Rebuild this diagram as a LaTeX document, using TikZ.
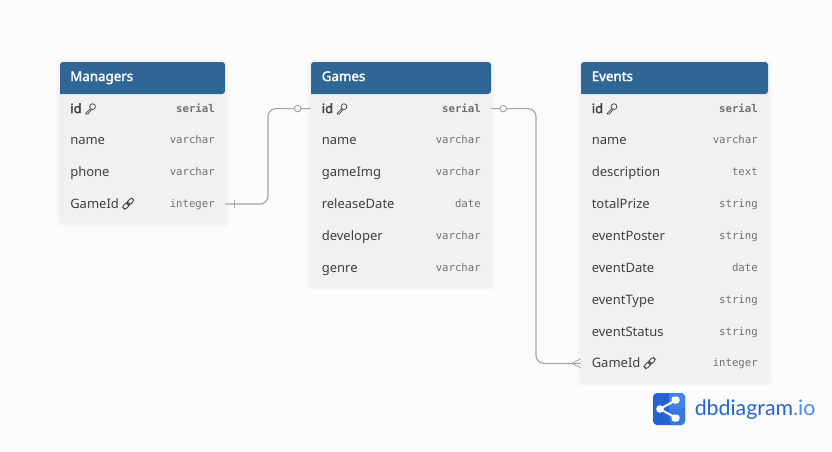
\documentclass[tikz,border=0pt]{standalone}
\usepackage{fontspec}
\setmainfont{Noto Sans}[AutoFakeBold=2]
\setmonofont{DejaVu Sans Mono}
\newfontfamily\logofont{Lato}
\usetikzlibrary{calc}
\definecolor{pagebg}{HTML}{FCFCFC}
\definecolor{headblue}{HTML}{2F6696}
\definecolor{rowgrey}{HTML}{F1F1F1}
\definecolor{fieldtxt}{HTML}{404040}
\definecolor{typetxt}{HTML}{707070}
\definecolor{linkgrey}{HTML}{A4A4AA}
\definecolor{logodark}{HTML}{2563D3}
\definecolor{logolight}{HTML}{4A8AF0}
\def\px{0.75pt}
\tikzset{
 headtxt/.style={anchor=base west,inner sep=0pt,text=white,font=\fontsize{10pt}{11pt}\selectfont\bfseries},
 colname/.style={anchor=base west,inner sep=0pt,text=fieldtxt,font=\fontsize{9.75pt}{11pt}\selectfont},
 coltype/.style={anchor=base east,inner sep=0pt,text=typetxt,font=\ttfamily\fontsize{8pt}{10pt}\selectfont},
 rowbox/.style={inner sep=0pt,minimum height={31.9*\px}},
 reflink/.style={draw=linkgrey,line width=0.9pt},
 keyicon/.pic={
  \draw[fieldtxt,line width=0.55pt] (2.1,-2.1) circle (2.9);
  \draw[fieldtxt,line width=0.55pt] (0.1,-0.1) -- (-4.6,4.6) -- (-4.6,5.2) -- (-2.4,5.2) -- (1.1,0.8);
 },
 chainicon/.pic={
  \draw[fieldtxt,line width=0.65pt,rotate=45,rounded corners=1.6] (-6.6,-2) rectangle (0.9,2);
  \draw[fieldtxt,line width=0.65pt,rotate=45,rounded corners=1.6] (-0.9,-2) rectangle (6.6,2);
 },
}
\begin{document}
\begin{tikzpicture}[x=0.75pt,y=-0.75pt]
\useasboundingbox[fill=pagebg] (0,0) rectangle (832,451);
% table panels with soft shadow
\foreach \xa/\xb/\yb in {60/225/222,311/491/285,581/768/381}{
 \foreach \s in {5,4,3,2,1}{
  \fill[black,opacity=0.008,rounded corners=3] (\xa-\s,62-\s+1) rectangle (\xb+\s,\yb+\s+1);
 }
 \fill[rowgrey,rounded corners=2.25pt] (\xa,62) rectangle (\xb,\yb);
 \fill[headblue,rounded corners=2.25pt] (\xa,94) -- (\xa,62) -- (\xb,62) -- (\xb,94) [sharp corners] -- cycle;
}
% Managers
\node[headtxt] (mhead) at (70,81) {Managers};
\foreach \i/\f/\t [evaluate=\i as \y using 108.6+(\i-1)*31.8] in {1/id/serial,2/name/varchar,3/phone/varchar,4/GameId/integer}{
 \node[rowbox,minimum width={165*\px}] (m\i) at (142.5,\y) {};
 \node[colname] (m\i n) at (70,\y+4.5) {\f};
 \node[coltype] (m\i t) at (215,\y+3.5) {\t};
}
% Games
\node[headtxt] (ghead) at (321.5,81) {Games};
\foreach \i/\f/\t [evaluate=\i as \y using 108.6+(\i-1)*31.8] in {1/id/serial,2/name/varchar,3/gameImg/varchar,4/releaseDate/date,5/developer/varchar,6/genre/varchar}{
 \node[rowbox,minimum width={180*\px}] (g\i) at (401,\y) {};
 \node[colname] (g\i n) at (321.5,\y+4.5) {\f};
 \node[coltype] (g\i t) at (481,\y+3.5) {\t};
}
% Events
\node[headtxt] (ehead) at (591.5,81) {Events};
\foreach \i/\f/\t [evaluate=\i as \y using 108.6+(\i-1)*31.85] in {1/id/serial,2/name/varchar,3/description/text,4/totalPrize/string,5/eventPoster/string,6/eventDate/date,7/eventType/string,8/eventStatus/string,9/GameId/integer}{
 \node[rowbox,minimum width={187*\px}] (e\i) at (674.5,\y) {};
 \node[colname] (e\i n) at (591.5,\y+4.5) {\f};
 \node[coltype] (e\i t) at (758,\y+3.5) {\t};
}
% primary keys are bold
\foreach \tb/\xa/\xb in {m/70/215,g/321.5/481,e/591.5/758}{
 \fill[rowgrey] (\xa-1,100) rectangle (\xb+1,117);
 \node[colname,font=\fontsize{9.75pt}{11pt}\selectfont\bfseries] (\tb id) at (\xa,113.1) {id};
 \node[coltype,font=\ttfamily\bfseries\fontsize{8pt}{10pt}\selectfont] (\tb st) at (\xb,112.1) {serial};
 \pic at ($(\tb id.east)+(8.5,0.5)$) {keyicon};
}
\pic at ($(m4n.east)+(9,0)$) {chainicon};
\pic at ($(e9n.east)+(9,0)$) {chainicon};
% connectors
\coordinate (mbend) at (268,0);
\coordinate (ebend) at (536,0);
\draw[reflink,rounded corners=6pt] (m4.east) -- (m4.east -| mbend) -- (g1.west -| mbend) -- (g1.west);
\draw[reflink,rounded corners=6pt] (g1.east) -- (g1.east -| ebend) -- (e9.west -| ebend) -- (e9.west);
\draw[reflink,line width=0.6pt] ($(m4.east)+(9,-4)$) -- ($(m4.east)+(9,4)$);
\filldraw[reflink,line width=0.7pt,fill=pagebg] ($(g1.west)+(-13,0)$) circle (3.3);
\filldraw[reflink,line width=0.7pt,fill=pagebg] ($(g1.east)+(12,0)$) circle (3.3);
\draw[reflink,line width=0.6pt] ($(e9.west)+(0,-4.5)$) -- ($(e9.west)+(-9,0)$) -- ($(e9.west)+(0,4.5)$);
% logo
\fill[logodark,rounded corners=3pt] (653,393) rectangle (685,425);
\fill[logolight!80!logodark,rounded corners=3pt] (669,393) -- (685,393) -- (685,409) [sharp corners] -- (669,409) -- cycle;
\fill[logolight!50!logodark,rounded corners=3pt] (685,409) -- (685,425) -- (669,425) [sharp corners] -- (669,409) -- cycle;
\draw[white,line width=1.5pt] (660,409) -- (676,400) (660,409) -- (676,418);
\fill[white] (660,409) circle (3.8);
\fill[white,rounded corners=2pt] (671.5,396.5) rectangle (679.5,403.5);
\fill[white,rounded corners=2pt] (671.5,414.5) rectangle (679.5,421.5);
\node[anchor=base west,inner sep=0pt,font=\logofont\fontsize{16pt}{18pt}\selectfont] (logotxt) at (694.5,415) {\textcolor{logodark}{dbdiagram}\textcolor{logolight}{.io}};
\end{tikzpicture}
\end{document}
